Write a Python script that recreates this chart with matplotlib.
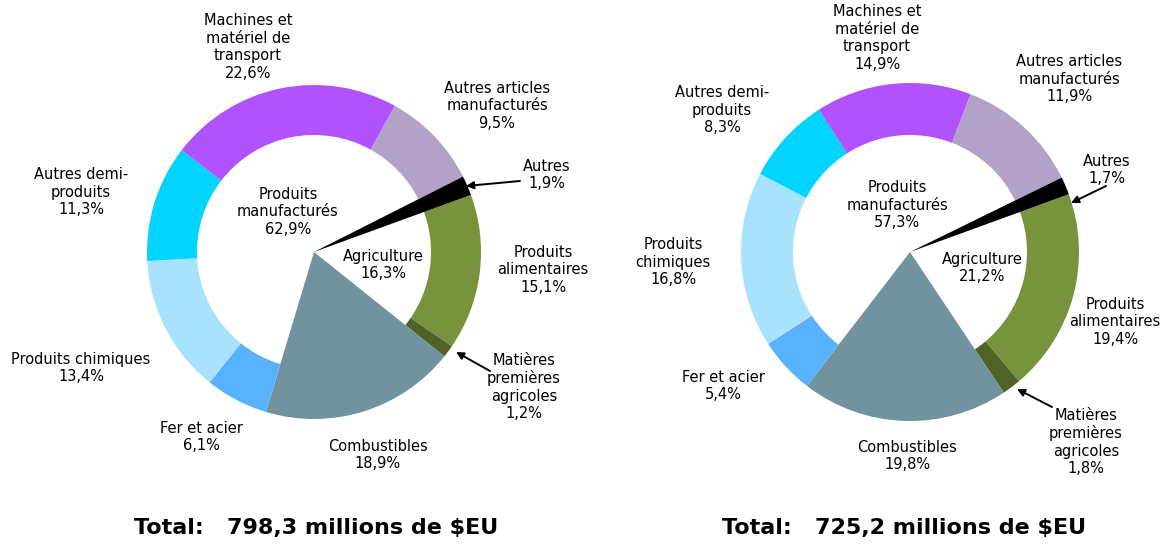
import matplotlib
matplotlib.use("Agg")
import matplotlib.pyplot as plt

# sector order (clockwise, starting just below "Autres")
categories = ["Produits alimentaires", "Matières premières agricoles", "Combustibles",
              "Fer et acier", "Produits chimiques", "Autres demi-produits",
              "Machines et matériel de transport", "Autres articles manufacturés", "Autres"]
shares_left = [15.1, 1.2, 18.9, 6.1, 13.4, 11.3, 22.6, 9.5, 1.9]
shares_right = [19.4, 1.8, 19.8, 5.4, 16.8, 8.3, 14.9, 11.9, 1.7]
total_left = "798,3"
total_right = "725,2"
group_left = {"manuf": "62,9%", "agri": "16,3%"}
group_right = {"manuf": "57,3%", "agri": "21,2%"}

colors = ["#77933C", "#4F6228", "#71939F", "#58B2FF", "#A9E2FD",
          "#00D4FF", "#B152FF", "#B2A2C8", "#000000"]
full_wedges = ["Combustibles", "Autres"]   # these go right to the centre

W, H = 1174, 544
fig = plt.figure(figsize=(W / 100, H / 100), dpi=100)
ax = fig.add_axes([0, 0, 1, 1])

FS = 10.5


def fmt(v):
    return ("%.1f" % v).replace(".", ",") + "%"


def txt(x, y, s, **kw):
    kw.setdefault("fontsize", FS)
    ax.text(x, H - y, s, ha="center", va="center", linespacing=1.2, **kw)


def arrow(x0, y0, x1, y1):
    ax.annotate("", xy=(x1, H - y1), xytext=(x0, H - y0),
                arrowprops=dict(arrowstyle="-|>", color="black", lw=1.4,
                                mutation_scale=11, shrinkA=0, shrinkB=0))


def donut(cx, cy, r, width, shares):
    wedges, _ = ax.pie(shares, colors=colors, startangle=20, counterclock=False,
                       radius=r, center=(cx, H - cy),
                       wedgeprops=dict(width=width, linewidth=0))
    for w, name in zip(wedges, categories):
        if name in full_wedges:
            w.set_width(None)


donut(314, 252, 167, 50, shares_left)
donut(910, 252, 169, 52, shares_right)

ax.set_xlim(0, W)
ax.set_ylim(0, H)
ax.set_aspect("equal")
ax.axis("off")

L, R_ = shares_left, shares_right

# left chart labels
txt(248, 47, "Machines et\nmatériel de\ntransport\n" + fmt(L[6]))
txt(497, 106, "Autres articles\nmanufacturés\n" + fmt(L[7]))
txt(547, 175, "Autres\n" + fmt(L[8]))
txt(543, 270, "Produits\nalimentaires\n" + fmt(L[0]))
txt(524, 387, "Matières\npremières\nagricoles\n" + fmt(L[1]))
txt(378, 455, "Combustibles\n" + fmt(L[2]))
txt(201, 437, "Fer et acier\n" + fmt(L[3]))
txt(81, 368, "Produits chimiques\n" + fmt(L[4]))
txt(81, 192, "Autres demi-\nproduits\n" + fmt(L[5]))
txt(288, 212, "Produits\nmanufacturés\n" + group_left["manuf"])
txt(383, 265, "Agriculture\n" + group_left["agri"])
arrow(520, 181, 466, 186)
arrow(490, 371, 456, 352)
txt(316, 528, "Total:   " + total_left + " millions de $EU", fontsize=16, fontweight="bold")

# right chart labels
txt(877, 38, "Machines et\nmatériel de\ntransport\n" + fmt(R_[6]))
txt(1069, 79, "Autres articles\nmanufacturés\n" + fmt(R_[7]))
txt(1107, 170, "Autres\n" + fmt(R_[8]))
txt(1115, 322, "Produits\nalimentaires\n" + fmt(R_[0]))
txt(1086, 442, "Matières\npremières\nagricoles\n" + fmt(R_[1]))
txt(907, 456, "Combustibles\n" + fmt(R_[2]))
txt(723, 386, "Fer et acier\n" + fmt(R_[3]))
txt(673, 262, "Produits\nchimiques\n" + fmt(R_[4]))
txt(722, 110, "Autres demi-\nproduits\n" + fmt(R_[5]))
txt(897, 205, "Produits\nmanufacturés\n" + group_right["manuf"])
txt(982, 268, "Agriculture\n" + group_right["agri"])
arrow(1106, 186, 1071, 203)
arrow(1052, 407, 1017, 389)
txt(904, 528, "Total:   " + total_right + " millions de $EU", fontsize=16, fontweight="bold")

fig.savefig("out.png", dpi=100)
